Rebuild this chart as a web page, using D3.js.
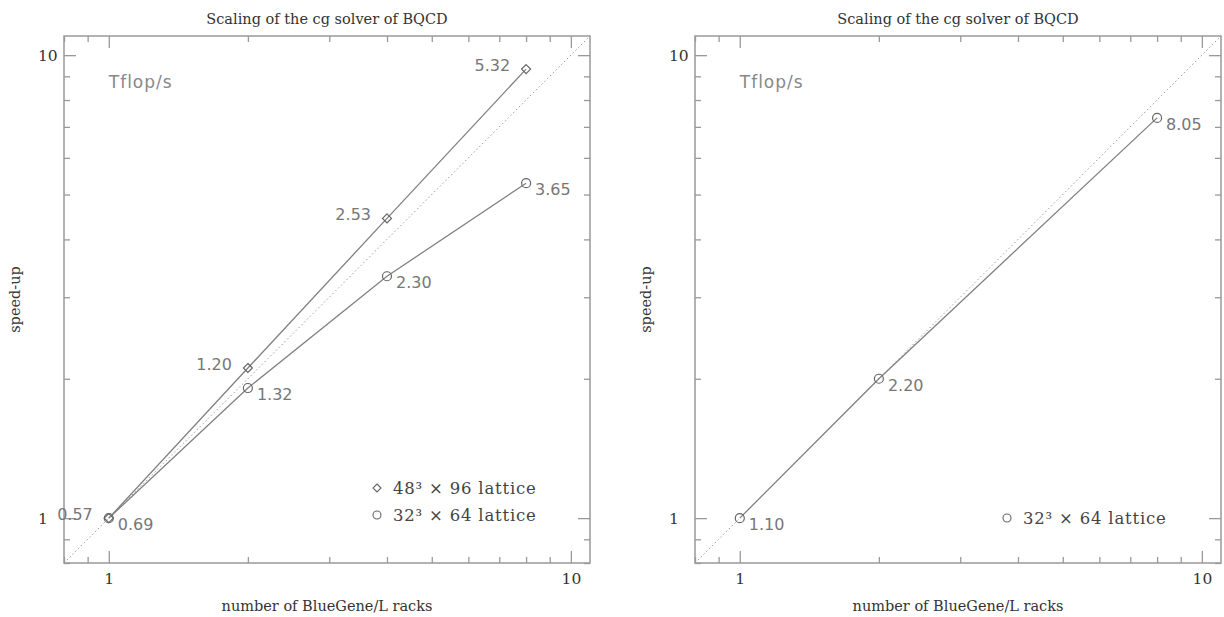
<!DOCTYPE html>
<html>
<head>
<meta charset="utf-8">
<script src="https://cdn.jsdelivr.net/npm/d3@7"></script>
<style>
  body { margin: 0; background: #fff; }
  svg { display: block; }
</style>
</head>
<body>
<div></div>
<script>
// data
let racks = [1, 2, 4, 8];
let tflops48 = [0.57, 1.20, 2.53, 5.32];
let speedup48 = [1, 2.11, 4.44, 9.33];
let tflops32 = [0.69, 1.32, 2.30, 3.65];
let speedup32 = [1, 1.91, 3.33, 5.29];

let racksR = [1, 2, 8];
let tflopsR = [1.10, 2.20, 8.05];
let speedupR = [1, 2.0, 7.32];

let minorTicks = [0.8, 0.9, 2, 3, 4, 5, 6, 7, 8, 9];
let majorTicks = [1, 10];

let width = 1224;
let height = 617;

let serif = "DejaVu Serif";
let sans = "DejaVu Sans";

let svg = d3.select("div").append("svg")
  .attr("width", width)
  .attr("height", height);

function drawPanel(left, right, top, bottom, series, legend) {
  let x = d3.scaleLog().domain([0.8, 11]).range([left, right]);
  let y = d3.scaleLog().domain([0.8, 11]).range([bottom, top]);
  let allTicks = minorTicks.concat(majorTicks);
  let g = svg.append("g");

  // title and axis labels
  g.append("text")
    .attr("x", (left + right) / 2)
    .attr("y", 24)
    .attr("text-anchor", "middle")
    .style("font-family", serif)
    .style("font-size", "14.5px")
    .style("fill", "#333")
    .text("Scaling of the cg solver of BQCD");

  g.append("text")
    .attr("x", (left + right) / 2)
    .attr("y", 611)
    .attr("text-anchor", "middle")
    .style("font-family", serif)
    .style("font-size", "14.5px")
    .style("fill", "#333")
    .text("number of BlueGene/L racks");

  g.append("text")
    .attr("transform", "translate(" + (left - 44) + "," + ((top + bottom) / 2) + ") rotate(-90)")
    .attr("text-anchor", "middle")
    .style("font-family", serif)
    .style("font-size", "14.5px")
    .style("fill", "#333")
    .text("speed-up");

  // axes, ticks pointing inward
  function fixTicks(sel, attr, sign) {
    sel.select(".domain").remove();
    sel.selectAll(".tick line")
      .attr("stroke", "#999")
      .attr("stroke-width", 1.3)
      .attr(attr, d => majorTicks.includes(d) ? sign * 12 : sign * 6);
    sel.selectAll(".tick text")
      .style("font-family", serif)
      .style("font-size", "15.5px")
      .style("fill", "#333");
  }
  let fmt = d => majorTicks.includes(d) ? d3.format("d")(d) : "";

  let xb = g.append("g").attr("transform", "translate(0," + bottom + ")")
    .call(d3.axisBottom(x).tickValues(allTicks).tickFormat(fmt).tickSize(-6).tickPadding(10));
  fixTicks(xb, "y2", -1);
  let xt = g.append("g").attr("transform", "translate(0," + top + ")")
    .call(d3.axisTop(x).tickValues(allTicks).tickFormat("").tickSize(-6));
  fixTicks(xt, "y2", 1);
  let yl = g.append("g").attr("transform", "translate(" + left + ",0)")
    .call(d3.axisLeft(y).tickValues(allTicks).tickFormat(fmt).tickSize(-6));
  fixTicks(yl, "x2", 1);
  // y labels sit left-aligned in the margin
  yl.selectAll(".tick text")
    .attr("x", -26)
    .attr("text-anchor", "start");
  let yr = g.append("g").attr("transform", "translate(" + right + ",0)")
    .call(d3.axisRight(y).tickValues(allTicks).tickFormat("").tickSize(-6));
  fixTicks(yr, "x2", -1);

  // frame
  g.append("rect")
    .attr("x", left).attr("y", top)
    .attr("width", right - left).attr("height", bottom - top)
    .attr("fill", "none")
    .attr("stroke", "#999")
    .attr("stroke-width", 1.5);

  // ideal scaling
  g.append("line")
    .attr("x1", x(0.8)).attr("y1", y(0.8))
    .attr("x2", x(11)).attr("y2", y(11))
    .attr("stroke", "#999")
    .attr("stroke-width", 1)
    .attr("stroke-dasharray", "1.5,2.5");

  g.append("text")
    .attr("x", x(1))
    .attr("y", 88)
    .style("font-family", sans)
    .style("font-size", "17px")
    .style("letter-spacing", "1px")
    .style("fill", "#888")
    .text("Tflop/s");

  let line = d3.line().x(d => x(d[0])).y(d => y(d[1]));

  series.forEach(function (s) {
    let pts = s.racks.map((r, i) => [r, s.speedup[i], s.tflops[i]]);
    g.append("path")
      .datum(pts)
      .attr("d", line)
      .attr("fill", "none")
      .attr("stroke", "#808080")
      .attr("stroke-width", 1.3);

    pts.forEach(function (p) {
      let cx = x(p[0]), cy = y(p[1]);
      if (s.shape == "diamond") {
        g.append("path")
          .attr("d", "M" + cx + "," + (cy - 4.5) + "L" + (cx + 4.5) + "," + cy + "L" + cx + "," + (cy + 4.5) + "L" + (cx - 4.5) + "," + cy + "Z")
          .attr("fill", "none").attr("stroke", "#666").attr("stroke-width", 1.2);
        g.append("text")
          .attr("x", cx - 16).attr("y", cy + 2)
          .attr("text-anchor", "end")
          .style("font-family", sans).style("font-size", "16px").style("fill", "#777")
          .text(d3.format(".2f")(p[2]));
      } else {
        g.append("circle")
          .attr("cx", cx).attr("cy", cy).attr("r", 4.5)
          .attr("fill", "none").attr("stroke", "#666").attr("stroke-width", 1.2);
        g.append("text")
          .attr("x", cx + 9).attr("y", cy + 12)
          .style("font-family", sans).style("font-size", "16px").style("fill", "#777")
          .text(d3.format(".2f")(p[2]));
      }
    });
  });

  // legend
  legend.forEach(function (l) {
    if (l.shape == "diamond") {
      g.append("path")
        .attr("d", "M" + l.x + "," + (l.y - 4) + "L" + (l.x + 4) + "," + l.y + "L" + l.x + "," + (l.y + 4) + "L" + (l.x - 4) + "," + l.y + "Z")
        .attr("fill", "none").attr("stroke", "#666").attr("stroke-width", 1.1);
    } else {
      g.append("circle")
        .attr("cx", l.x).attr("cy", l.y).attr("r", 4)
        .attr("fill", "none").attr("stroke", "#666").attr("stroke-width", 1.1);
    }
    g.append("text")
      .attr("x", l.x + 16).attr("y", l.y + 6)
      .style("font-family", serif).style("font-size", "16.5px")
      .style("letter-spacing", "0.8px")
      .style("fill", "#444")
      .text(l.label);
  });
}

drawPanel(64, 590, 36, 563,
  [
    { racks: racks, speedup: speedup48, tflops: tflops48, shape: "diamond" },
    { racks: racks, speedup: speedup32, tflops: tflops32, shape: "circle" }
  ],
  [
    { x: 377, y: 488, shape: "diamond", label: "48\u00b3 \u00d7 96 lattice" },
    { x: 377, y: 515, shape: "circle", label: "32\u00b3 \u00d7 64 lattice" }
  ]);

drawPanel(695, 1221, 36, 563,
  [
    { racks: racksR, speedup: speedupR, tflops: tflopsR, shape: "circle" }
  ],
  [
    { x: 1007, y: 518, shape: "circle", label: "32\u00b3 \u00d7 64 lattice" }
  ]);
</script>
</body>
</html>
